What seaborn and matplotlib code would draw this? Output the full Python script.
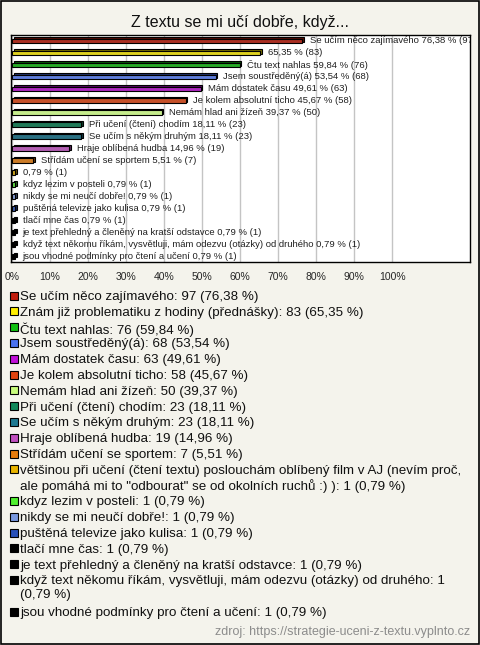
# Z textu se mi učí dobře, když... (horizontal 3D-ish bars + long legend)

import numpy as np
import pandas as pd
import matplotlib
matplotlib.use('Agg')
import matplotlib.pyplot as plt
import matplotlib.colors as mcolors
from matplotlib.patches import Rectangle
import seaborn as sns

# Data
answers = [
    'Se učím něco zajímavého',
    'Znám již problematiku z hodiny (přednášky)',
    'Čtu text nahlas',
    'Jsem soustředěný(á)',
    'Mám dostatek času',
    'Je kolem absolutní ticho',
    'Nemám hlad ani žízeň',
    'Při učení (čtení) chodím',
    'Se učím s někým druhým',
    'Hraje oblíbená hudba',
    'Střídám učení se sportem',
    'většinou při učení (čtení textu) poslouchám oblíbený film v AJ (nevím proč,\n'
    'ale pomáhá mi to "odbourat" se od okolních ruchů :) )',
    'kdyz lezim v posteli',
    'nikdy se mi neučí dobře!',
    'puštěná televize jako kulisa',
    'tlačí mne čas',
    'je text přehledný a členěný na kratší odstavce',
    'když text někomu říkám, vysvětluji, mám odezvu (otázky) od druhého',
    'jsou vhodné podmínky pro čtení a učení',
]
counts = [97, 83, 76, 68, 63, 58, 50, 23, 23, 19, 7, 1, 1, 1, 1, 1, 1, 1, 1]
percents = [76.38, 65.35, 59.84, 53.54, 49.61, 45.67, 39.37, 18.11, 18.11, 14.96,
            5.51, 0.79, 0.79, 0.79, 0.79, 0.79, 0.79, 0.79, 0.79]
# names shown next to the bars (empty = only value)
bar_names = ['Se učím něco zajímavého', '', 'Čtu text nahlas', 'Jsem soustředěný(á)',
             'Mám dostatek času', 'Je kolem absolutní ticho', 'Nemám hlad ani žízeň',
             'Při učení (čtení) chodím', 'Se učím s někým druhým', 'Hraje oblíbená hudba',
             'Střídám učení se sportem', '', 'kdyz lezim v posteli',
             'nikdy se mi neučí dobře!', 'puštěná televize jako kulisa', 'tlačí mne čas',
             'je text přehledný a členěný na kratší odstavce',
             'když text někomu říkám, vysvětluji, mám odezvu (otázky) od druhého',
             'jsou vhodné podmínky pro čtení a učení']
legend_text = answers[:17] + [
    'když text někomu říkám, vysvětluji, mám odezvu (otázky) od druhého: 1\n(0,79 %)',
    answers[18]]
colors = ['#c01c0c', '#ffee00', '#10c010', '#4a72f0', '#c010d8', '#e04410',
          '#c8fc7c', '#10885a', '#1c7890', '#c050c0', '#e87c0c', '#e8b400',
          '#50f030', '#7898e0', '#2850b8', '#000000', '#000000', '#000000', '#000000']
ticks = [0, 10, 20, 30, 40, 50, 60, 70, 80, 90, 100]


def fmt(v):
    return f'{v:.2f}'.replace('.', ',')


df = pd.DataFrame({'answer': [a.replace('\n', ' ') for a in answers], 'pct': percents})

sns.set_theme(style='white')
plt.rcParams['font.family'] = ['Liberation Sans', 'DejaVu Sans']

bg = '#f4f3ec'
fig = plt.figure(figsize=(4.8, 6.45), dpi=100, facecolor=bg)
fig.patches.append(Rectangle((0.002, 0.002), 0.996, 0.996, transform=fig.transFigure,
                             fill=False, edgecolor='black', linewidth=1.2))

W, H = 480, 645
ax = fig.add_axes([11 / W, 1 - 262 / H, (470 - 11) / W, (262 - 35) / H])
ax.set_facecolor('white')

# shadow (3D side) behind each bar
ypos = np.arange(len(percents))
shade = [tuple(np.array(mcolors.to_rgb(c)) * 0.45) for c in colors]
ax.barh(ypos - 0.13, percents, left=0.45, height=0.4, color=shade,
        edgecolor='black', linewidth=0.8, zorder=2)

sns.barplot(data=df, x='pct', y='answer', hue='answer', palette=colors, legend=False,
            orient='h', width=0.4, edgecolor='black', linewidth=0.8, ax=ax, zorder=3)

for i, (p, n, nm) in enumerate(zip(percents, counts, bar_names)):
    label = f'{nm} {fmt(p)} % ({n})' if nm else f'{fmt(p)} % ({n})'
    ax.text(p + 2.0, i, label, fontsize=6.8, va='center', ha='left',
            color='#202020', clip_on=True, zorder=4)

ax.set_xlim(-0.3, 120.5)
ax.set_ylim(18.45, -0.5)
ax.set_xticks(ticks)
ax.set_xticklabels([f'{t}%' for t in ticks], fontsize=7.5)
ax.tick_params(axis='x', length=0, pad=7)
ax.set_yticks([])
ax.set_xlabel('')
ax.set_ylabel('')
ax.grid(axis='x', color='#c4c4c4', linewidth=1)
ax.set_axisbelow(True)
for s in ax.spines.values():
    s.set_color('black')
    s.set_linewidth(1)

fig.text(0.5, 1 - 22 / H, 'Z textu se mi učí dobře, když...', ha='center', va='center',
         fontsize=11.5, color='#101010')

# legend drawn row by row
line_h = 15.8
y = 296.5
for txt, c, n, p in zip(legend_text, colors, counts, percents):
    if txt.endswith('(0,79 %)'):
        full = txt
    else:
        full = f'{txt}: {n} ({fmt(p)} %)'
    fig.patches.append(Rectangle((10 / W, 1 - (y + 3) / H), 8 / W, 8 / H,
                                 transform=fig.transFigure, facecolor=c,
                                 edgecolor='black', linewidth=0.8))
    fig.text(20 / W, 1 - (y - 5.5) / H, full, ha='left', va='top', fontsize=9.6,
             color='#101010', linespacing=1.18)
    y += line_h * (full.count('\n') + 1)

fig.text(470 / W, 1 - 632 / H, 'zdroj: https://strategie-uceni-z-textu.vyplnto.cz',
         ha='right', va='center', fontsize=9, color='#8c8c8c')

fig.savefig('out.png', dpi=100, facecolor=bg)
